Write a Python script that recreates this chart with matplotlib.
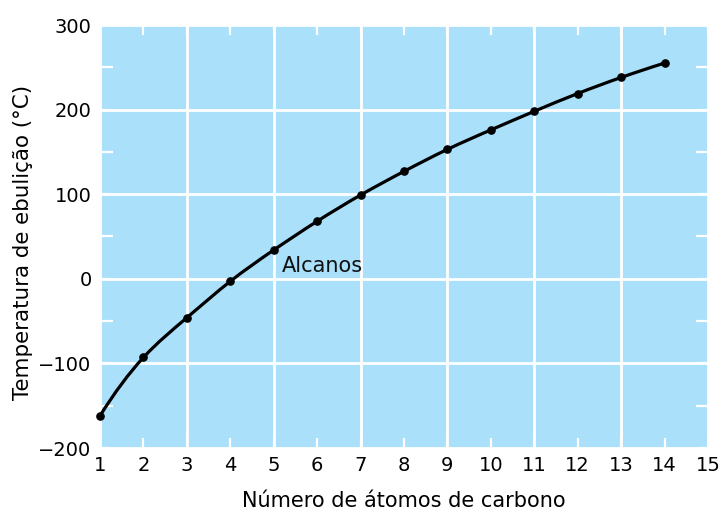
import numpy as np
import matplotlib
matplotlib.use("Agg")
import matplotlib.pyplot as plt
from matplotlib.path import Path
from matplotlib.patches import PathPatch

# Boiling points of straight-chain alkanes
carbonos = [1, 2, 3, 4, 5, 6, 7, 8, 9, 10, 11, 12, 13, 14]
temperaturas = [-162, -93, -46, -3, 34, 68, 99, 127, 153, 176, 198, 219, 238, 255]
x_ticks = list(range(1, 16))
y_ticks = [-200, -100, 0, 100, 200, 300]
y_ticklabels = ["\u2212200", "\u2212100", "0", "100", "200", "300"]
serie_nome = "Alcanos"

BG = "#aae0fa"

plt.rcParams["font.family"] = ["DejaVu Sans"]

fig = plt.figure(figsize=(7.27, 5.11), dpi=100)
ax = fig.add_axes([100 / 727, 1 - 448 / 511, 608 / 727, 423 / 511])
ax.set_facecolor(BG)
ax.set_xlim(1, 15)
ax.set_ylim(-200, 300)

ax.set_xticks(x_ticks)
ax.set_yticks(y_ticks)
ax.set_yticks(np.arange(-150, 300, 100), minor=True)
ax.set_yticklabels(y_ticklabels)

ax.grid(True, which="major", color="white", linewidth=2)
for xv, gl in zip(x_ticks, ax.get_xgridlines()):
    gl.set_visible(xv % 2 == 1)

ax.tick_params(axis="both", which="both", direction="in", color="white",
               width=1.6, top=True, right=True, labelsize=14, pad=6)
ax.tick_params(axis="both", which="major", length=7)
ax.tick_params(axis="y", which="minor", length=9)
ax.set_axisbelow(True)
for s in ax.spines.values():
    s.set_visible(False)

# smooth curve through the points: cubic spline (parabolic run-out ends)
# drawn as Bezier segments
xs = np.array(carbonos, float)
ys = np.array(temperaturas, float)
n = len(xs)
h = np.diff(xs)
A = np.zeros((n, n))
r = np.zeros(n)
A[0, 0], A[0, 1] = 1.0, -1.0
A[-1, -1], A[-1, -2] = 1.0, -1.0
for i in range(1, n - 1):
    A[i, i - 1] = h[i - 1]
    A[i, i] = 2 * (h[i - 1] + h[i])
    A[i, i + 1] = h[i]
    r[i] = 6 * ((ys[i + 1] - ys[i]) / h[i] - (ys[i] - ys[i - 1]) / h[i - 1])
M = np.linalg.solve(A, r)
slopes = np.empty(n)
for i in range(n - 1):
    slopes[i] = (ys[i + 1] - ys[i]) / h[i] - h[i] * (2 * M[i] + M[i + 1]) / 6
slopes[-1] = (ys[-1] - ys[-2]) / h[-1] + h[-1] * (M[-2] + 2 * M[-1]) / 6

verts = [(xs[0], ys[0])]
codes = [Path.MOVETO]
for i in range(n - 1):
    d = h[i] / 3
    verts += [(xs[i] + d, ys[i] + d * slopes[i]),
              (xs[i + 1] - d, ys[i + 1] - d * slopes[i + 1]),
              (xs[i + 1], ys[i + 1])]
    codes += [Path.CURVE4] * 3
ax.add_patch(PathPatch(Path(verts, codes), facecolor="none", edgecolor="black",
                       linewidth=2.3, capstyle="round", zorder=3))
ax.plot(xs, ys, "o", color="black", markersize=5.2, zorder=4, clip_on=False)

ax.text(5.19, 15, serie_nome, fontsize=15, ha="left", va="center", color="#111111")

ax.set_xlabel("Número de átomos de carbono", fontsize=15, labelpad=11)
ax.set_ylabel("Temperatura de ebulição (°C)", fontsize=15.4, labelpad=4)
ax.yaxis.label.set_y(0.487)

fig.savefig("out.png", dpi=100)
